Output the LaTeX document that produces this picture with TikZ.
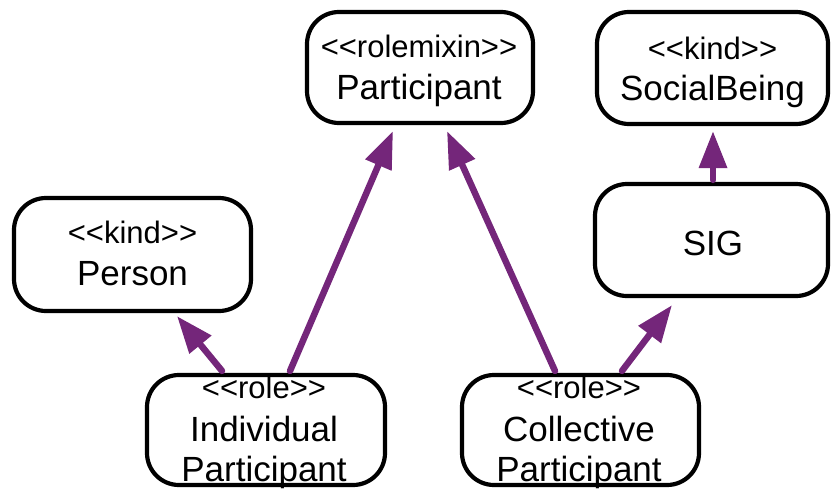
\documentclass[tikz,border=0pt]{standalone}
\usepackage{fontspec}
\setmainfont{Liberation Sans}[Ligatures=TeXOff]
\usetikzlibrary{arrows.meta}
\definecolor{arrowpurple}{HTML}{74267A}
\begin{document}
\begin{tikzpicture}[x=1pt,y=-1pt,
  classbox/.style={draw=black,line width=4.2pt,rounded corners=32pt,fill=white,inner sep=0pt},
  stereo/.style={anchor=base,inner sep=0pt,font=\fontsize{31}{34}\selectfont},
  mainname/.style={anchor=base,inner sep=0pt,font=\fontsize{35}{40}\selectfont},
  gen/.style={draw=arrowpurple,line width=6.5pt,line cap=round,
    -{Triangle[length=37pt,width=27pt,fill=arrowpurple]}}]
\useasboundingbox (0,0) rectangle (832,490);
% boxes
\node[classbox,minimum width=226pt,minimum height=111pt] (part) at (420,67.5) {};
\node[classbox,minimum width=231pt,minimum height=112pt] (social) at (712.5,68) {};
\node[classbox,minimum width=233pt,minimum height=112pt] (sig) at (711.5,240) {};
\node[classbox,minimum width=237pt,minimum height=113pt] (person) at (132.5,254.5) {};
\node[classbox,minimum width=238pt,minimum height=110pt] (ind) at (266,430) {};
\node[classbox,minimum width=237pt,minimum height=110pt] (col) at (580.5,430) {};
% texts
\node[stereo] (partS) at (419,57) {<<rolemixin>>};
\node[mainname] (partN) at (419,99) {Participant};
\node[stereo] (socialS) at (712.5,59) {<<kind>>};
\node[mainname] (socialN) at (712.5,100) {SocialBeing};
\node[mainname] (sigN) at (713,255) {SIG};
\node[stereo] (personS) at (132.5,243) {<<kind>>};
\node[mainname] (personN) at (132.5,285) {Person};
\node[stereo] (indS) at (264,398) {<<role>>};
\node[mainname] (indN1) at (264,441) {Individual};
\node[mainname] (indN2) at (264,481) {Participant};
\node[stereo] (colS) at (579,398) {<<role>>};
\node[mainname] (colN1) at (579,441) {Collective};
\node[mainname] (colN2) at (579,481) {Participant};
% generalizations
\draw[gen] ([xshift=-44pt,yshift=2pt]ind.north) -- ([xshift=44.5pt,yshift=-3pt]person.south);
\draw[gen] ([xshift=24pt,yshift=2pt]ind.north) -- ([xshift=-27pt,yshift=-6pt]part.south);
\draw[gen] ([xshift=-25.5pt,yshift=2pt]col.north) -- ([xshift=27pt,yshift=-6pt]part.south);
\draw[gen] ([xshift=41.5pt,yshift=2pt]col.north) -- ([xshift=-39.5pt,yshift=-7pt]sig.south);
\draw[gen] ([xshift=1.5pt,yshift=2pt]sig.north) -- ([xshift=0.5pt,yshift=-5pt]social.south);
\end{tikzpicture}
\end{document}
